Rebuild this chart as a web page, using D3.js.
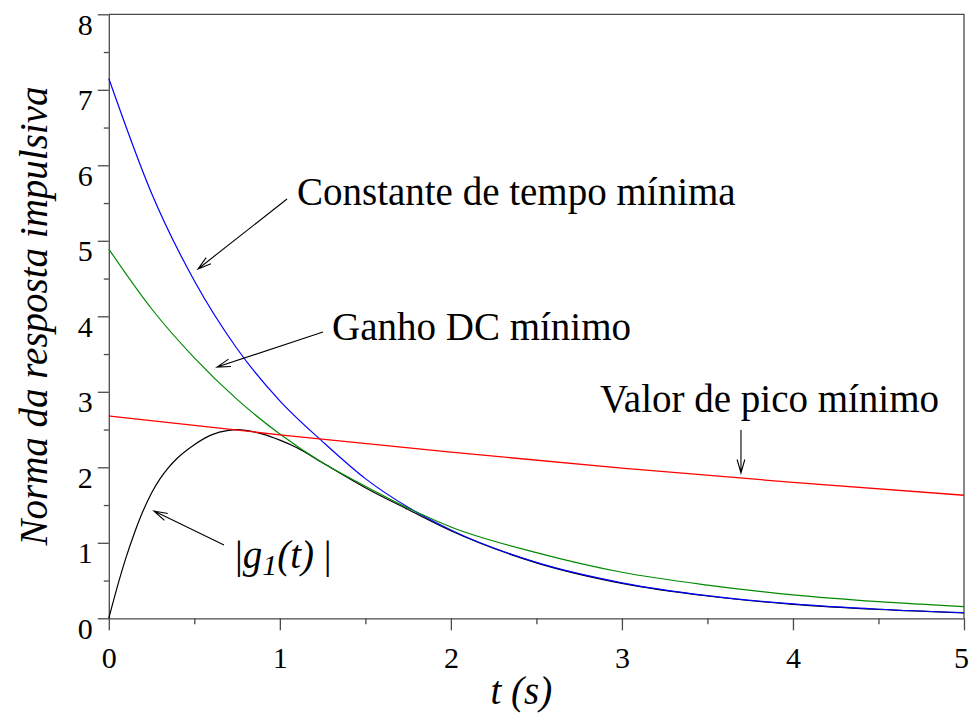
<!DOCTYPE html>
<html>
<head>
<meta charset="utf-8">
<script src="https://cdn.jsdelivr.net/npm/d3@7"></script>
<style>
  html, body { margin: 0; padding: 0; background: #fff; }
  svg { display: block; }
</style>
</head>
<body>
<script>
// Time samples (s) and impulse-response norms for each design
const tMain = [0, 0.25, 0.5, 0.75, 1, 1.25, 1.5, 1.75, 2, 2.5, 3, 3.5, 4, 4.5, 5];
const minTimeConstant = [7.15, 5.63, 4.47, 3.57, 2.88, 2.34, 1.85, 1.47, 1.17, 0.74, 0.47, 0.30, 0.19, 0.12, 0.075];
const minDcGain = [4.89, 4.10, 3.45, 2.90, 2.44, 2.06, 1.75, 1.46, 1.21, 0.87, 0.61, 0.44, 0.31, 0.22, 0.154];

const tPeak = [0, 1, 2, 3, 4, 5];
const minPeakValue = [2.68, 2.43, 2.20, 1.99, 1.80, 1.63];

const tG1 = [0, 0.05, 0.1, 0.15, 0.2, 0.25, 0.3, 0.35, 0.4, 0.5, 0.6, 0.7, 0.75, 0.8, 0.9, 1.0, 1.1, 1.25, 1.5, 1.75, 2, 2.5, 3, 3.5, 4, 4.5, 5];
const g1Abs = [0, 0.42, 0.80, 1.13, 1.42, 1.66, 1.85, 2.00, 2.12, 2.30, 2.43, 2.49, 2.50, 2.49, 2.44, 2.36, 2.26, 2.06, 1.73, 1.44, 1.16, 0.735, 0.463, 0.295, 0.185, 0.117, 0.072];

const xTicks = [0, 1, 2, 3, 4, 5];
const yTicks = [0, 1, 2, 3, 4, 5, 6, 7, 8];

// Callout labels, anchored in data units: label origin, arrow tail, arrow tip
const callouts = [
  { label: "Constante de tempo mínima", at: [1.100, 5.474], tail: [1.042, 5.554], tip: [0.5215, 4.627] },
  { label: "Ganho DC mínimo",           at: [1.305, 3.686], tail: [1.2524, 3.792], tip: [0.6326, 3.328] },
  { label: "Valor de pico mínimo",      at: [2.872, 2.733], tail: [3.696, 2.494], tip: [3.696, 1.925] },
  { label: "g1",                        at: [0.7377, 0.666], tail: [0.6735, 0.971], tip: [0.2643, 1.421] }
];

const W = 969, H = 713;
const margin = { left: 108.8, right: W - 964, top: 14.3, bottom: H - 618.3 };
const serif = "'Liberation Serif', 'Times New Roman', Times, serif";
const axisColor = "#4a4a4a";

const svg = d3.select("body").append("svg")
  .attr("width", W).attr("height", H)
  .attr("viewBox", `0 0 ${W} ${H}`);

const x = d3.scaleLinear().domain([0, 5]).range([margin.left, W - margin.right]);
const y = d3.scaleLinear().domain([0, 8]).range([H - margin.bottom, margin.top]);

// Frame (top and right edges)
svg.append("path")
  .attr("d", `M${x(0)},${y(8)}H${x(5)}V${y(0)}`)
  .attr("fill", "none").attr("stroke", axisColor).attr("stroke-width", 1.3);

// Minor ticks every 0.5
const xMinor = d3.axisBottom(x).tickValues(d3.range(0.5, 5, 1)).tickSize(6).tickFormat("");
const yMinor = d3.axisLeft(y).tickValues(d3.range(0.5, 8, 1)).tickSize(5).tickFormat("");
svg.append("g").attr("transform", `translate(0,${y(0)})`).call(xMinor)
  .call(g => g.select(".domain").remove());
svg.append("g").attr("transform", `translate(${x(0)},0)`).call(yMinor)
  .call(g => g.select(".domain").remove());

// Major axes
const xAxis = d3.axisBottom(x).tickValues(xTicks).tickSize(12).tickSizeOuter(0).tickFormat(d3.format("d"));
const yAxis = d3.axisLeft(y).tickValues(yTicks).tickSize(11).tickSizeOuter(0).tickFormat(d3.format("d"));

const gx = svg.append("g").attr("transform", `translate(0,${y(0)})`).call(xAxis);
const gy = svg.append("g").attr("transform", `translate(${x(0)},0)`).call(yAxis);

svg.selectAll(".tick line, .domain")
  .attr("stroke", axisColor).attr("stroke-width", 1.3);

gx.attr("font-family", serif).attr("font-size", 30);
gy.attr("font-family", serif).attr("font-size", 30);

// the last x label sits against the right edge, so nudge it inward
gx.selectAll("text")
  .attr("fill", "#000").attr("dy", null).attr("y", 50)
  .attr("x", d => d === xTicks[xTicks.length - 1] ? -3 : 0);
gy.selectAll("text")
  .attr("fill", "#000").attr("dy", null).attr("y", 20).attr("x", -16);

// Axis titles
svg.append("text")
  .attr("x", (x(0) + x(5)) / 2 - 15).attr("y", 704)
  .attr("text-anchor", "middle")
  .attr("font-family", serif).attr("font-style", "italic").attr("font-size", 39)
  .text("t (s)");

svg.append("text")
  .attr("transform", `translate(47,${316}) rotate(-90)`)
  .attr("text-anchor", "middle")
  .attr("font-family", serif).attr("font-style", "italic").attr("font-size", 39)
  .text("Norma da resposta impulsiva");

// Curves
const series = [
  { t: tG1,   v: g1Abs,            color: "#000000", width: 1.2 },
  { t: tMain, v: minTimeConstant,  color: "#0000ff", width: 1.2 },
  { t: tMain, v: minDcGain,        color: "#008a00", width: 1.2 },
  { t: tPeak, v: minPeakValue,     color: "#ff0000", width: 1.3 }
];

const line = d3.line()
  .x(d => x(d[0])).y(d => y(d[1]))
  .curve(d3.curveMonotoneX);

svg.append("g").selectAll("path")
  .data(series).join("path")
  .attr("d", s => line(s.t.map((t, i) => [t, s.v[i]])))
  .attr("fill", "none")
  .attr("stroke", s => s.color)
  .attr("stroke-width", s => s.width);

// Callouts with open arrowheads
const ann = svg.append("g");
callouts.forEach(c => {
  const [x1, y1] = [x(c.tail[0]), y(c.tail[1])];
  const [x2, y2] = [x(c.tip[0]), y(c.tip[1])];
  const ang = Math.atan2(y1 - y2, x1 - x2);
  const len = 14, spread = 16 * Math.PI / 180;
  const b1 = [x2 + len * Math.cos(ang + spread), y2 + len * Math.sin(ang + spread)];
  const b2 = [x2 + len * Math.cos(ang - spread), y2 + len * Math.sin(ang - spread)];
  ann.append("path")
    .attr("d", `M${x1},${y1}L${x2},${y2}M${b1[0]},${b1[1]}L${x2},${y2}L${b2[0]},${b2[1]}`)
    .attr("fill", "none").attr("stroke", "#000").attr("stroke-width", 1.1);

  const txt = ann.append("text")
    .attr("x", x(c.at[0])).attr("y", y(c.at[1]))
    .attr("font-family", serif).attr("font-size", 39).attr("fill", "#000");
  if (c.label === "g1") {
    txt.append("tspan").text("|");
    txt.append("tspan").attr("font-style", "italic").text("g");
    txt.append("tspan").attr("font-style", "italic").attr("font-size", 30).attr("dy", 7).text("1");
    txt.append("tspan").attr("font-style", "italic").attr("dy", -7).text("(t)");
    txt.append("tspan").text(" |");
  } else {
    txt.text(c.label);
  }
});
</script>
</body>
</html>
